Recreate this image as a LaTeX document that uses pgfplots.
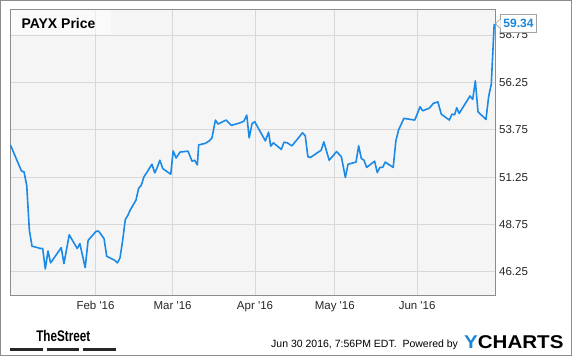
\documentclass[border=0pt]{standalone}
\usepackage{graphicx}
\usepackage{pgfplots}
\pgfplotsset{compat=1.18}
\usepackage{fontspec}
\setmainfont{Liberation Sans}
\definecolor{lineblue}{HTML}{1B8AE6}
\definecolor{plotbg}{HTML}{F5F5F5}
\definecolor{gridc}{HTML}{D8D8D8}
\definecolor{framec}{HTML}{8C8C8C}
\definecolor{ychblue}{HTML}{1A86DA}
% day of year 2016 (Jan 1 = 0), closing price
\pgfplotstableread{
day price
-1.0 52.94
3.1 51.58
4.1 51.52
5.1 50.82
6.1 48.44
7.1 47.60
9.1 47.53
10.1 47.48
11.1 47.49
12.1 46.40
13.1 47.35
14.1 46.72
18.1 47.53
19.1 46.68
21.1 48.20
24.1 47.48
25.1 47.74
27.1 46.47
28.2 47.91
31.2 48.39
32.2 48.39
34.2 48.00
35.2 47.07
38.2 46.86
39.2 46.72
40.2 46.98
41.2 47.91
42.2 49.01
43.2 49.24
44.0 49.50
46.2 50.03
47.2 50.65
48.2 50.82
49.2 51.26
50.2 51.47
52.2 51.93
53.3 51.47
54.2 51.76
55.2 52.14
56.3 51.70
59.3 51.40
60.2 52.63
61.3 52.26
62.8 52.57
65.8 52.62
67.3 52.09
68.3 52.14
69.3 51.89
69.8 52.95
72.3 53.03
73.8 53.16
74.8 53.32
76.1 54.26
77.1 54.05
80.1 54.26
82.1 53.98
85.3 54.11
86.8 54.20
87.9 54.52
88.8 53.32
89.9 54.08
90.9 54.17
94.9 53.16
96.1 53.62
96.9 52.88
97.9 53.06
100.9 52.71
101.9 53.09
103.1 53.06
104.9 52.90
108.9 53.59
109.9 53.43
110.9 52.32
111.9 52.29
115.9 52.67
116.9 53.11
118.9 52.14
121.7 52.60
123.5 52.32
125.0 51.23
126.0 51.93
129.0 52.04
130.0 52.90
131.0 52.23
132.0 52.14
133.0 51.76
136.0 52.09
137.0 51.49
138.0 51.76
139.0 51.76
140.0 52.04
143.0 51.76
144.0 53.16
145.0 53.73
147.0 54.35
151.1 54.26
152.0 54.57
153.1 54.96
154.1 54.75
156.6 54.89
158.1 55.14
159.8 55.22
161.1 54.57
164.1 54.26
165.1 54.57
166.1 54.54
166.9 54.91
167.8 54.61
171.9 55.53
172.9 55.35
173.9 56.33
174.9 54.70
177.9 54.29
178.9 55.49
179.9 56.16
181.0 59.34
}\payx
\begin{document}
\begin{tikzpicture}[x=1pt,y=1pt]
\draw[framec, line width=1pt] (0.5,2.3) rectangle (571.5,357.5);
\begin{axis}[
  at={(10.5pt,62.5pt)}, anchor=south west,
  scale only axis, width=484.5pt, height=285.5pt,
  xmin=-1, xmax=181.3, ymin=45, ymax=60.07,
  axis background/.style={fill=plotbg},
  axis line style={framec, line width=1pt},
  xtick={31,60,91,121,152},
  xticklabels={Feb \textquotesingle16, Mar \textquotesingle16, Apr \textquotesingle16, May \textquotesingle16, Jun \textquotesingle16},
  ytick={46.25,48.75,51.25,53.75,56.25,58.75},
  yticklabel pos=right,
  major tick length=0pt,
  grid=major, grid style={gridc, line width=1pt},
  ticklabel style={font=\fontsize{11.5}{12}\selectfont, text=black!85},
  yticklabel style={anchor=west, inner sep=0pt, xshift=4pt,
     /pgf/number format/.cd, fixed, fixed zerofill, precision=2, assume math mode=true},
  xticklabel style={anchor=north, inner sep=0pt, yshift=-5.5pt},
  clip=false,
]
\addplot[lineblue, line width=1.6pt, line join=round, mark=none] table[x=day, y=price] {\payx};
\node[anchor=west, xshift=5pt, draw=framec!80, fill=white, line width=0.8pt,
      inner xsep=3pt, minimum height=18pt, text=ychblue,
      font=\fontsize{12}{12}\selectfont\bfseries] (v) at (axis cs:181.3,59.34) {59.34};
\end{axis}
\fill[white, opacity=0.5] (11,323.7) rectangle (111,347.5);
\node[anchor=base west, inner sep=0pt, font=\fontsize{14}{14}\selectfont\bfseries] at (21.3,329) {PAYX Price};
\draw[framec!80, fill=white, line width=0.8pt] ([yshift=4.5pt]v.west) -- ++(-4.5pt,-4.5pt) -- ++(4.5pt,-4.5pt);
\fill[white] ([yshift=4pt,xshift=0.5pt]v.west) -- ++(-4pt,-4pt) -- ++(4pt,-4pt) -- cycle;
% footer
\node[anchor=base, inner sep=0pt] at (63.3,16.7) {\scalebox{0.76}[1]{\fontsize{15.4}{16}\selectfont\bfseries TheStreet}};
\fill[black!85] (10,7.3) rectangle (42.7,10);
\fill[black!85] (46.7,7.3) rectangle (79.3,10);
\fill[black!85] (83.3,7.3) rectangle (116,10);
\node[anchor=base west, inner sep=0pt, font=\fontsize{10.5}{12}\selectfont] at (271,10) {Jun 30 2016, 7:56PM EDT.\ \ Powered by};
\node[anchor=base west, inner sep=0pt] at (464,9.7) {\scalebox{1.11}[1]{\fontsize{18.5}{20}\selectfont\bfseries\textcolor{ychblue}{Y}CHARTS}};
\pgfresetboundingbox
\path[use as bounding box] (0,0) rectangle (575,358);
\end{tikzpicture}
\end{document}
